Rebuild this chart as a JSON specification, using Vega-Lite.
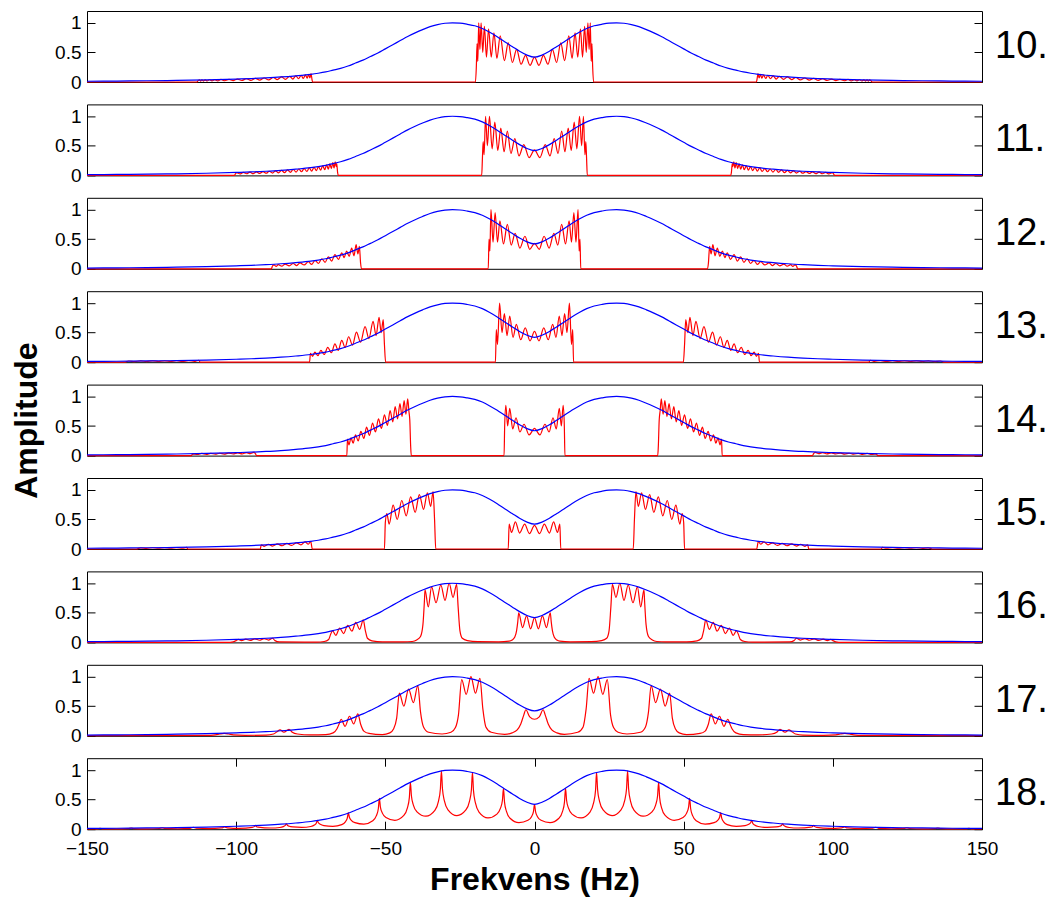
{
"$schema":"https://vega.github.io/schema/vega-lite/v6.json",
"background":"white",
"padding":{"left":10,"top":10,"right":2,"bottom":2},
"spacing":22.4,
"bounds":"flush",
"config":{
 "view":{"stroke":"#000","strokeWidth":1},
 "axis":{"labelFont":"Liberation Sans","labelFontSize":19,"labelColor":"#000","tickColor":"#000","tickWidth":1,"domain":false,"grid":false,"titleColor":"#000","titleFont":"Liberation Sans","labelFlush":false}
},
"datasets":{
"env":[
{"x":-150,"y":0.013},{"x":-140,"y":0.016},{"x":-130,"y":0.021},{"x":-120,"y":0.027},{"x":-110,"y":0.036},{"x":-100,"y":0.05},{"x":-95,"y":0.058},{"x":-90,"y":0.07},{"x":-85,"y":0.085},{"x":-80,"y":0.105},{"x":-75,"y":0.13},{"x":-72.5,"y":0.148},{"x":-70,"y":0.17},{"x":-67.5,"y":0.2},{"x":-65,"y":0.23},{"x":-62.5,"y":0.27},{"x":-60,"y":0.32},{"x":-57.5,"y":0.37},{"x":-55,"y":0.43},{"x":-52.5,"y":0.49},{"x":-50,"y":0.56},{"x":-47.5,"y":0.63},{"x":-45,"y":0.7},{"x":-42.5,"y":0.77},{"x":-40,"y":0.83},{"x":-37.5,"y":0.885},{"x":-35,"y":0.935},{"x":-32.5,"y":0.97},{"x":-30,"y":0.993},{"x":-27.5,"y":1.0},{"x":-25,"y":0.994},{"x":-22.5,"y":0.975},{"x":-20,"y":0.95},{"x":-17.5,"y":0.905},{"x":-15,"y":0.84},{"x":-12.5,"y":0.765},{"x":-10,"y":0.68},{"x":-7.5,"y":0.6},{"x":-5,"y":0.52},{"x":-2.5,"y":0.455},{"x":0,"y":0.42},
{"x":2.5,"y":0.455},{"x":5,"y":0.52},{"x":7.5,"y":0.6},{"x":10,"y":0.68},{"x":12.5,"y":0.765},{"x":15,"y":0.84},{"x":17.5,"y":0.905},{"x":20,"y":0.95},{"x":22.5,"y":0.975},{"x":25,"y":0.994},{"x":27.5,"y":1.0},{"x":30,"y":0.993},{"x":32.5,"y":0.97},{"x":35,"y":0.935},{"x":37.5,"y":0.885},{"x":40,"y":0.83},{"x":42.5,"y":0.77},{"x":45,"y":0.7},{"x":47.5,"y":0.63},{"x":50,"y":0.56},{"x":52.5,"y":0.49},{"x":55,"y":0.43},{"x":57.5,"y":0.37},{"x":60,"y":0.32},{"x":62.5,"y":0.27},{"x":65,"y":0.23},{"x":67.5,"y":0.2},{"x":70,"y":0.17},{"x":72.5,"y":0.148},{"x":75,"y":0.13},{"x":80,"y":0.105},{"x":85,"y":0.085},{"x":90,"y":0.07},{"x":95,"y":0.058},{"x":100,"y":0.05},{"x":110,"y":0.036},{"x":120,"y":0.027},{"x":130,"y":0.021},{"x":140,"y":0.016},{"x":150,"y":0.013}
],
"red":[
{"p":10,"x":-150,"y":0},{"p":10,"x":-113.2,"y":0},{"p":10,"x":-112.8,"y":0.02},{"p":10,"x":-112.3,"y":0.035},{"p":10,"x":-111.9,"y":0.015},{"p":10,"x":-111.5,"y":0.035},{"p":10,"x":-110.9,"y":0.016},{"p":10,"x":-110.4,"y":0.036},{"p":10,"x":-109.7,"y":0.017},{"p":10,"x":-109,"y":0.038},{"p":10,"x":-108.1,"y":0.018},{"p":10,"x":-107.2,"y":0.04},{"p":10,"x":-106.2,"y":0.02},{"p":10,"x":-105.1,"y":0.043},{"p":10,"x":-103.8,"y":0.021},{"p":10,"x":-102.4,"y":0.046},{"p":10,"x":-101,"y":0.023},{"p":10,"x":-99.6,"y":0.05},{"p":10,"x":-98.1,"y":0.025},{"p":10,"x":-96.6,"y":0.055},{"p":10,"x":-95.1,"y":0.028},{"p":10,"x":-93.6,"y":0.06},{"p":10,"x":-92.1,"y":0.031},{"p":10,"x":-90.6,"y":0.068},{"p":10,"x":-89.1,"y":0.035},{"p":10,"x":-87.6,"y":0.076},{"p":10,"x":-86.2,"y":0.04},{"p":10,"x":-84.8,"y":0.085},{"p":10,"x":-83.5,"y":0.045},{"p":10,"x":-82.1,"y":0.095},{"p":10,"x":-81,"y":0.05},{"p":10,"x":-80,"y":0.105},{"p":10,"x":-79.1,"y":0.055},{"p":10,"x":-78.2,"y":0.113},{"p":10,"x":-77.5,"y":0.06},{"p":10,"x":-76.8,"y":0.12},{"p":10,"x":-76.2,"y":0.065},{"p":10,"x":-75.7,"y":0.13},{"p":10,"x":-75.3,"y":0.07},{"p":10,"x":-74.9,"y":0.14},{"p":10,"x":-74.6,"y":0.05},{"p":10,"x":-74.4,"y":0},
{"p":10,"x":-19.8,"y":0},{"p":10,"x":-19.5,"y":0.25},{"p":10,"x":-19.25,"y":0.65},{"p":10,"x":-19,"y":0.35},{"p":10,"x":-18.7,"y":1},{"p":10,"x":-18.3,"y":0.55},{"p":10,"x":-17.9,"y":1},{"p":10,"x":-17.35,"y":0.5},{"p":10,"x":-16.8,"y":0.94},{"p":10,"x":-16.1,"y":0.42},{"p":10,"x":-15.4,"y":0.9},{"p":10,"x":-14.5,"y":0.42},{"p":10,"x":-13.6,"y":0.83},{"p":10,"x":-12.6,"y":0.4},{"p":10,"x":-11.5,"y":0.78},{"p":10,"x":-10.1,"y":0.36},{"p":10,"x":-8.8,"y":0.66},{"p":10,"x":-7.4,"y":0.33},{"p":10,"x":-6,"y":0.55},{"p":10,"x":-4.5,"y":0.3},{"p":10,"x":-3,"y":0.45},{"p":10,"x":-1.5,"y":0.28},{"p":10,"x":0,"y":0.42},{"p":10,"x":1.5,"y":0.28},{"p":10,"x":3,"y":0.45},{"p":10,"x":4.5,"y":0.3},{"p":10,"x":6,"y":0.55},{"p":10,"x":7.4,"y":0.33},{"p":10,"x":8.8,"y":0.66},{"p":10,"x":10.1,"y":0.36},{"p":10,"x":11.5,"y":0.78},{"p":10,"x":12.6,"y":0.4},{"p":10,"x":13.6,"y":0.83},{"p":10,"x":14.5,"y":0.42},{"p":10,"x":15.4,"y":0.9},{"p":10,"x":16.1,"y":0.42},{"p":10,"x":16.8,"y":0.94},{"p":10,"x":17.35,"y":0.5},{"p":10,"x":17.9,"y":1},{"p":10,"x":18.3,"y":0.55},{"p":10,"x":18.7,"y":1},{"p":10,"x":19,"y":0.35},{"p":10,"x":19.25,"y":0.65},{"p":10,"x":19.5,"y":0.25},{"p":10,"x":19.8,"y":0},
{"p":10,"x":74.4,"y":0},{"p":10,"x":74.6,"y":0.05},{"p":10,"x":74.9,"y":0.14},{"p":10,"x":75.3,"y":0.07},{"p":10,"x":75.7,"y":0.13},{"p":10,"x":76.2,"y":0.065},{"p":10,"x":76.8,"y":0.12},{"p":10,"x":77.5,"y":0.06},{"p":10,"x":78.2,"y":0.113},{"p":10,"x":79.1,"y":0.055},{"p":10,"x":80,"y":0.105},{"p":10,"x":81,"y":0.05},{"p":10,"x":82.1,"y":0.095},{"p":10,"x":83.5,"y":0.045},{"p":10,"x":84.8,"y":0.085},{"p":10,"x":86.2,"y":0.04},{"p":10,"x":87.6,"y":0.076},{"p":10,"x":89.1,"y":0.035},{"p":10,"x":90.6,"y":0.068},{"p":10,"x":92.1,"y":0.031},{"p":10,"x":93.6,"y":0.06},{"p":10,"x":95.1,"y":0.028},{"p":10,"x":96.6,"y":0.055},{"p":10,"x":98.1,"y":0.025},{"p":10,"x":99.6,"y":0.05},{"p":10,"x":101,"y":0.023},{"p":10,"x":102.4,"y":0.046},{"p":10,"x":103.8,"y":0.021},{"p":10,"x":105.1,"y":0.043},{"p":10,"x":106.2,"y":0.02},{"p":10,"x":107.2,"y":0.04},{"p":10,"x":108.1,"y":0.018},{"p":10,"x":109,"y":0.038},{"p":10,"x":109.7,"y":0.017},{"p":10,"x":110.4,"y":0.036},{"p":10,"x":110.9,"y":0.016},{"p":10,"x":111.5,"y":0.035},{"p":10,"x":111.9,"y":0.015},{"p":10,"x":112.3,"y":0.035},{"p":10,"x":112.8,"y":0.02},{"p":10,"x":113.2,"y":0},{"p":10,"x":150,"y":0},

{"p":11,"x":-150,"y":0},{"p":11,"x":-100.6,"y":0},{"p":11,"x":-100.2,"y":0.03},{"p":11,"x":-99.8,"y":0.045},{"p":11,"x":-98.7,"y":0.025},{"p":11,"x":-97.6,"y":0.05},{"p":11,"x":-96.5,"y":0.028},{"p":11,"x":-95.4,"y":0.055},{"p":11,"x":-94.3,"y":0.03},{"p":11,"x":-93.2,"y":0.06},{"p":11,"x":-92.1,"y":0.033},{"p":11,"x":-91,"y":0.065},{"p":11,"x":-89.9,"y":0.036},{"p":11,"x":-88.9,"y":0.07},{"p":11,"x":-87.8,"y":0.04},{"p":11,"x":-86.8,"y":0.077},{"p":11,"x":-85.8,"y":0.043},{"p":11,"x":-84.8,"y":0.084},{"p":11,"x":-83.8,"y":0.047},{"p":11,"x":-82.8,"y":0.092},{"p":11,"x":-81.8,"y":0.052},{"p":11,"x":-80.9,"y":0.1},{"p":11,"x":-79.9,"y":0.057},{"p":11,"x":-79,"y":0.108},{"p":11,"x":-78.1,"y":0.062},{"p":11,"x":-77.2,"y":0.116},{"p":11,"x":-76.3,"y":0.067},{"p":11,"x":-75.5,"y":0.126},{"p":11,"x":-74.7,"y":0.073},{"p":11,"x":-73.9,"y":0.137},{"p":11,"x":-73.1,"y":0.08},{"p":11,"x":-72.4,"y":0.15},{"p":11,"x":-71.7,"y":0.088},{"p":11,"x":-71,"y":0.163},{"p":11,"x":-70.3,"y":0.096},{"p":11,"x":-69.7,"y":0.178},{"p":11,"x":-69.1,"y":0.105},{"p":11,"x":-68.6,"y":0.195},{"p":11,"x":-68.1,"y":0.115},{"p":11,"x":-67.6,"y":0.215},{"p":11,"x":-67.2,"y":0.125},{"p":11,"x":-66.8,"y":0.23},{"p":11,"x":-66.5,"y":0.15},{"p":11,"x":-66.3,"y":0.2},{"p":11,"x":-66,"y":0.05},{"p":11,"x":-65.8,"y":0},
{"p":11,"x":-17.7,"y":0},{"p":11,"x":-17.45,"y":0.3},{"p":11,"x":-17.2,"y":0.57},{"p":11,"x":-16.9,"y":0.35},{"p":11,"x":-16.4,"y":1},{"p":11,"x":-15.8,"y":0.5},{"p":11,"x":-15.1,"y":1},{"p":11,"x":-14.2,"y":0.45},{"p":11,"x":-13.3,"y":0.9},{"p":11,"x":-12.3,"y":0.42},{"p":11,"x":-11.3,"y":0.8},{"p":11,"x":-10.2,"y":0.4},{"p":11,"x":-9.1,"y":0.75},{"p":11,"x":-7.9,"y":0.37},{"p":11,"x":-6.6,"y":0.62},{"p":11,"x":-5.2,"y":0.33},{"p":11,"x":-3.6,"y":0.52},{"p":11,"x":-1.8,"y":0.3},{"p":11,"x":0,"y":0.43},{"p":11,"x":1.8,"y":0.3},{"p":11,"x":3.6,"y":0.52},{"p":11,"x":5.2,"y":0.33},{"p":11,"x":6.6,"y":0.62},{"p":11,"x":7.9,"y":0.37},{"p":11,"x":9.1,"y":0.75},{"p":11,"x":10.2,"y":0.4},{"p":11,"x":11.3,"y":0.8},{"p":11,"x":12.3,"y":0.42},{"p":11,"x":13.3,"y":0.9},{"p":11,"x":14.2,"y":0.45},{"p":11,"x":15.1,"y":1},{"p":11,"x":15.8,"y":0.5},{"p":11,"x":16.4,"y":1},{"p":11,"x":16.9,"y":0.35},{"p":11,"x":17.2,"y":0.57},{"p":11,"x":17.45,"y":0.3},{"p":11,"x":17.7,"y":0},
{"p":11,"x":65.8,"y":0},{"p":11,"x":66,"y":0.05},{"p":11,"x":66.3,"y":0.2},{"p":11,"x":66.5,"y":0.15},{"p":11,"x":66.8,"y":0.23},{"p":11,"x":67.2,"y":0.125},{"p":11,"x":67.6,"y":0.215},{"p":11,"x":68.1,"y":0.115},{"p":11,"x":68.6,"y":0.195},{"p":11,"x":69.1,"y":0.105},{"p":11,"x":69.7,"y":0.178},{"p":11,"x":70.3,"y":0.096},{"p":11,"x":71,"y":0.163},{"p":11,"x":71.7,"y":0.088},{"p":11,"x":72.4,"y":0.15},{"p":11,"x":73.1,"y":0.08},{"p":11,"x":73.9,"y":0.137},{"p":11,"x":74.7,"y":0.073},{"p":11,"x":75.5,"y":0.126},{"p":11,"x":76.3,"y":0.067},{"p":11,"x":77.2,"y":0.116},{"p":11,"x":78.1,"y":0.062},{"p":11,"x":79,"y":0.108},{"p":11,"x":79.9,"y":0.057},{"p":11,"x":80.9,"y":0.1},{"p":11,"x":81.8,"y":0.052},{"p":11,"x":82.8,"y":0.092},{"p":11,"x":83.8,"y":0.047},{"p":11,"x":84.8,"y":0.084},{"p":11,"x":85.8,"y":0.043},{"p":11,"x":86.8,"y":0.077},{"p":11,"x":87.8,"y":0.04},{"p":11,"x":88.9,"y":0.07},{"p":11,"x":89.9,"y":0.036},{"p":11,"x":91,"y":0.065},{"p":11,"x":92.1,"y":0.033},{"p":11,"x":93.2,"y":0.06},{"p":11,"x":94.3,"y":0.03},{"p":11,"x":95.4,"y":0.055},{"p":11,"x":96.5,"y":0.028},{"p":11,"x":97.6,"y":0.05},{"p":11,"x":98.7,"y":0.025},{"p":11,"x":99.8,"y":0.045},{"p":11,"x":100.2,"y":0.03},{"p":11,"x":100.6,"y":0},{"p":11,"x":150,"y":0},

{"p":12,"x":-150,"y":0},{"p":12,"x":-88.2,"y":0},{"p":12,"x":-87.8,"y":0.05},{"p":12,"x":-87.3,"y":0.065},{"p":12,"x":-86.6,"y":0.04},{"p":12,"x":-85.9,"y":0.07},{"p":12,"x":-84.7,"y":0.045},{"p":12,"x":-83.6,"y":0.08},{"p":12,"x":-82.2,"y":0.05},{"p":12,"x":-80.9,"y":0.09},{"p":12,"x":-79.7,"y":0.055},{"p":12,"x":-78.6,"y":0.1},{"p":12,"x":-77.2,"y":0.065},{"p":12,"x":-75.8,"y":0.12},{"p":12,"x":-74.7,"y":0.075},{"p":12,"x":-73.6,"y":0.14},{"p":12,"x":-72.4,"y":0.09},{"p":12,"x":-71.3,"y":0.17},{"p":12,"x":-70.2,"y":0.11},{"p":12,"x":-69.1,"y":0.2},{"p":12,"x":-68,"y":0.13},{"p":12,"x":-66.9,"y":0.24},{"p":12,"x":-65.7,"y":0.16},{"p":12,"x":-64.6,"y":0.27},{"p":12,"x":-63.8,"y":0.19},{"p":12,"x":-63,"y":0.3},{"p":12,"x":-62.1,"y":0.21},{"p":12,"x":-61.3,"y":0.35},{"p":12,"x":-60.5,"y":0.22},{"p":12,"x":-59.8,"y":0.41},{"p":12,"x":-59.2,"y":0.25},{"p":12,"x":-58.7,"y":0.38},{"p":12,"x":-58.3,"y":0.1},{"p":12,"x":-58,"y":0},
{"p":12,"x":-15.5,"y":0},{"p":12,"x":-15.25,"y":0.5},{"p":12,"x":-14.95,"y":0.3},{"p":12,"x":-14.6,"y":1},{"p":12,"x":-13.9,"y":0.45},{"p":12,"x":-13.2,"y":0.95},{"p":12,"x":-12.4,"y":0.45},{"p":12,"x":-11.6,"y":0.81},{"p":12,"x":-10.4,"y":0.42},{"p":12,"x":-9.1,"y":0.75},{"p":12,"x":-7.8,"y":0.4},{"p":12,"x":-6.5,"y":0.6},{"p":12,"x":-4.9,"y":0.35},{"p":12,"x":-3.2,"y":0.55},{"p":12,"x":-1.6,"y":0.33},{"p":12,"x":0,"y":0.43},{"p":12,"x":1.6,"y":0.33},{"p":12,"x":3.2,"y":0.55},{"p":12,"x":4.9,"y":0.35},{"p":12,"x":6.5,"y":0.6},{"p":12,"x":7.8,"y":0.4},{"p":12,"x":9.1,"y":0.75},{"p":12,"x":10.4,"y":0.42},{"p":12,"x":11.6,"y":0.81},{"p":12,"x":12.4,"y":0.45},{"p":12,"x":13.2,"y":0.95},{"p":12,"x":13.9,"y":0.45},{"p":12,"x":14.6,"y":1},{"p":12,"x":14.95,"y":0.3},{"p":12,"x":15.25,"y":0.5},{"p":12,"x":15.5,"y":0},
{"p":12,"x":58,"y":0},{"p":12,"x":58.3,"y":0.1},{"p":12,"x":58.7,"y":0.38},{"p":12,"x":59.2,"y":0.25},{"p":12,"x":59.8,"y":0.41},{"p":12,"x":60.5,"y":0.22},{"p":12,"x":61.3,"y":0.35},{"p":12,"x":62.1,"y":0.21},{"p":12,"x":63,"y":0.3},{"p":12,"x":63.8,"y":0.19},{"p":12,"x":64.6,"y":0.27},{"p":12,"x":65.7,"y":0.16},{"p":12,"x":66.9,"y":0.24},{"p":12,"x":68,"y":0.13},{"p":12,"x":69.1,"y":0.2},{"p":12,"x":70.2,"y":0.11},{"p":12,"x":71.3,"y":0.17},{"p":12,"x":72.4,"y":0.09},{"p":12,"x":73.6,"y":0.14},{"p":12,"x":74.7,"y":0.075},{"p":12,"x":75.8,"y":0.12},{"p":12,"x":77.2,"y":0.065},{"p":12,"x":78.6,"y":0.1},{"p":12,"x":79.7,"y":0.055},{"p":12,"x":80.9,"y":0.09},{"p":12,"x":82.2,"y":0.05},{"p":12,"x":83.6,"y":0.08},{"p":12,"x":84.7,"y":0.045},{"p":12,"x":85.9,"y":0.07},{"p":12,"x":86.6,"y":0.04},{"p":12,"x":87.3,"y":0.065},{"p":12,"x":87.8,"y":0.05},{"p":12,"x":88.2,"y":0},{"p":12,"x":150,"y":0},

{"p":13,"x":-150,"y":0},{"p":13,"x":-137.5,"y":0},{"p":13,"x":-136,"y":0.02},{"p":13,"x":-134,"y":0.01},{"p":13,"x":-132,"y":0.022},{"p":13,"x":-130,"y":0.011},{"p":13,"x":-128,"y":0.023},{"p":13,"x":-126,"y":0.012},{"p":13,"x":-124,"y":0.024},{"p":13,"x":-122,"y":0.012},{"p":13,"x":-120,"y":0.025},{"p":13,"x":-118,"y":0.013},{"p":13,"x":-116,"y":0.026},{"p":13,"x":-114,"y":0.014},{"p":13,"x":-112.6,"y":0.03},{"p":13,"x":-112,"y":0},
{"p":13,"x":-75.4,"y":0},{"p":13,"x":-75.1,"y":0.15},{"p":13,"x":-74.4,"y":0.1},{"p":13,"x":-73.6,"y":0.17},{"p":13,"x":-72.6,"y":0.11},{"p":13,"x":-71.6,"y":0.2},{"p":13,"x":-70.5,"y":0.13},{"p":13,"x":-69.3,"y":0.25},{"p":13,"x":-68.1,"y":0.16},{"p":13,"x":-66.9,"y":0.31},{"p":13,"x":-65.8,"y":0.2},{"p":13,"x":-64.6,"y":0.37},{"p":13,"x":-63.5,"y":0.25},{"p":13,"x":-62.3,"y":0.43},{"p":13,"x":-61,"y":0.29},{"p":13,"x":-59.7,"y":0.51},{"p":13,"x":-58.3,"y":0.34},{"p":13,"x":-56.8,"y":0.6},{"p":13,"x":-55.5,"y":0.4},{"p":13,"x":-54.1,"y":0.69},{"p":13,"x":-53.1,"y":0.45},{"p":13,"x":-52.1,"y":0.76},{"p":13,"x":-51.4,"y":0.5},{"p":13,"x":-50.7,"y":0.72},{"p":13,"x":-50.3,"y":0.3},{"p":13,"x":-49.9,"y":0},
{"p":13,"x":-13.1,"y":0},{"p":13,"x":-12.8,"y":0.55},{"p":13,"x":-12.4,"y":0.3},{"p":13,"x":-11.7,"y":1},{"p":13,"x":-10.9,"y":0.5},{"p":13,"x":-10.1,"y":0.82},{"p":13,"x":-9.2,"y":0.45},{"p":13,"x":-8.3,"y":0.78},{"p":13,"x":-7.2,"y":0.42},{"p":13,"x":-6.1,"y":0.64},{"p":13,"x":-4.6,"y":0.38},{"p":13,"x":-3.1,"y":0.58},{"p":13,"x":-1.5,"y":0.36},{"p":13,"x":0,"y":0.52},{"p":13,"x":1.5,"y":0.36},{"p":13,"x":3.1,"y":0.58},{"p":13,"x":4.6,"y":0.38},{"p":13,"x":6.1,"y":0.64},{"p":13,"x":7.2,"y":0.42},{"p":13,"x":8.3,"y":0.78},{"p":13,"x":9.2,"y":0.45},{"p":13,"x":10.1,"y":0.82},{"p":13,"x":10.9,"y":0.5},{"p":13,"x":11.7,"y":1},{"p":13,"x":12.4,"y":0.3},{"p":13,"x":12.8,"y":0.55},{"p":13,"x":13.1,"y":0},
{"p":13,"x":49.9,"y":0},{"p":13,"x":50.3,"y":0.3},{"p":13,"x":50.7,"y":0.72},{"p":13,"x":51.4,"y":0.5},{"p":13,"x":52.1,"y":0.76},{"p":13,"x":53.1,"y":0.45},{"p":13,"x":54.1,"y":0.69},{"p":13,"x":55.5,"y":0.4},{"p":13,"x":56.8,"y":0.6},{"p":13,"x":58.3,"y":0.34},{"p":13,"x":59.7,"y":0.51},{"p":13,"x":61,"y":0.29},{"p":13,"x":62.3,"y":0.43},{"p":13,"x":63.5,"y":0.25},{"p":13,"x":64.6,"y":0.37},{"p":13,"x":65.8,"y":0.2},{"p":13,"x":66.9,"y":0.31},{"p":13,"x":68.1,"y":0.16},{"p":13,"x":69.3,"y":0.25},{"p":13,"x":70.5,"y":0.13},{"p":13,"x":71.6,"y":0.2},{"p":13,"x":72.6,"y":0.11},{"p":13,"x":73.6,"y":0.17},{"p":13,"x":74.4,"y":0.1},{"p":13,"x":75.1,"y":0.15},{"p":13,"x":75.4,"y":0},
{"p":13,"x":112,"y":0},{"p":13,"x":112.6,"y":0.03},{"p":13,"x":114,"y":0.014},{"p":13,"x":116,"y":0.026},{"p":13,"x":118,"y":0.013},{"p":13,"x":120,"y":0.025},{"p":13,"x":122,"y":0.012},{"p":13,"x":124,"y":0.024},{"p":13,"x":126,"y":0.012},{"p":13,"x":128,"y":0.023},{"p":13,"x":130,"y":0.011},{"p":13,"x":132,"y":0.022},{"p":13,"x":134,"y":0.01},{"p":13,"x":136,"y":0.02},{"p":13,"x":137.5,"y":0},{"p":13,"x":150,"y":0},

{"p":14,"x":-150,"y":0},{"p":14,"x":-115,"y":0},{"p":14,"x":-114.6,"y":0.03},{"p":14,"x":-113,"y":0.02},{"p":14,"x":-111.5,"y":0.036},{"p":14,"x":-110,"y":0.022},{"p":14,"x":-108.5,"y":0.038},{"p":14,"x":-107,"y":0.024},{"p":14,"x":-105.5,"y":0.04},{"p":14,"x":-104,"y":0.026},{"p":14,"x":-102.5,"y":0.043},{"p":14,"x":-101,"y":0.028},{"p":14,"x":-99.5,"y":0.047},{"p":14,"x":-98,"y":0.03},{"p":14,"x":-96.6,"y":0.05},{"p":14,"x":-95.3,"y":0.034},{"p":14,"x":-94.1,"y":0.056},{"p":14,"x":-93.5,"y":0.03},{"p":14,"x":-93.2,"y":0},
{"p":14,"x":-62.9,"y":0},{"p":14,"x":-62.7,"y":0.28},{"p":14,"x":-62.2,"y":0.18},{"p":14,"x":-61.5,"y":0.3},{"p":14,"x":-60.8,"y":0.21},{"p":14,"x":-60,"y":0.35},{"p":14,"x":-59.1,"y":0.25},{"p":14,"x":-58.2,"y":0.41},{"p":14,"x":-57.2,"y":0.29},{"p":14,"x":-56.3,"y":0.48},{"p":14,"x":-55.3,"y":0.34},{"p":14,"x":-54.3,"y":0.55},{"p":14,"x":-53.3,"y":0.4},{"p":14,"x":-52.3,"y":0.62},{"p":14,"x":-51.3,"y":0.46},{"p":14,"x":-50.3,"y":0.69},{"p":14,"x":-49.3,"y":0.51},{"p":14,"x":-48.4,"y":0.76},{"p":14,"x":-47.5,"y":0.57},{"p":14,"x":-46.7,"y":0.83},{"p":14,"x":-45.9,"y":0.62},{"p":14,"x":-45.1,"y":0.88},{"p":14,"x":-44.4,"y":0.66},{"p":14,"x":-43.7,"y":0.93},{"p":14,"x":-43.1,"y":0.7},{"p":14,"x":-42.5,"y":0.96},{"p":14,"x":-42.1,"y":0.75},{"p":14,"x":-41.8,"y":0.6},{"p":14,"x":-41.5,"y":0.15},{"p":14,"x":-41.3,"y":0},
{"p":14,"x":-10.2,"y":0},{"p":14,"x":-10,"y":0.5},{"p":14,"x":-9.6,"y":0.85},{"p":14,"x":-9,"y":0.5},{"p":14,"x":-8.3,"y":0.8},{"p":14,"x":-7.3,"y":0.45},{"p":14,"x":-6.2,"y":0.64},{"p":14,"x":-4.9,"y":0.4},{"p":14,"x":-3.5,"y":0.53},{"p":14,"x":-1.8,"y":0.35},{"p":14,"x":0,"y":0.46},{"p":14,"x":1.8,"y":0.35},{"p":14,"x":3.5,"y":0.53},{"p":14,"x":4.9,"y":0.4},{"p":14,"x":6.2,"y":0.64},{"p":14,"x":7.3,"y":0.45},{"p":14,"x":8.3,"y":0.8},{"p":14,"x":9,"y":0.5},{"p":14,"x":9.6,"y":0.85},{"p":14,"x":10,"y":0.5},{"p":14,"x":10.2,"y":0},
{"p":14,"x":41.3,"y":0},{"p":14,"x":41.5,"y":0.15},{"p":14,"x":41.8,"y":0.6},{"p":14,"x":42.1,"y":0.75},{"p":14,"x":42.5,"y":0.96},{"p":14,"x":43.1,"y":0.7},{"p":14,"x":43.7,"y":0.93},{"p":14,"x":44.4,"y":0.66},{"p":14,"x":45.1,"y":0.88},{"p":14,"x":45.9,"y":0.62},{"p":14,"x":46.7,"y":0.83},{"p":14,"x":47.5,"y":0.57},{"p":14,"x":48.4,"y":0.76},{"p":14,"x":49.3,"y":0.51},{"p":14,"x":50.3,"y":0.69},{"p":14,"x":51.3,"y":0.46},{"p":14,"x":52.3,"y":0.62},{"p":14,"x":53.3,"y":0.4},{"p":14,"x":54.3,"y":0.55},{"p":14,"x":55.3,"y":0.34},{"p":14,"x":56.3,"y":0.48},{"p":14,"x":57.2,"y":0.29},{"p":14,"x":58.2,"y":0.41},{"p":14,"x":59.1,"y":0.25},{"p":14,"x":60,"y":0.35},{"p":14,"x":60.8,"y":0.21},{"p":14,"x":61.5,"y":0.3},{"p":14,"x":62.2,"y":0.18},{"p":14,"x":62.7,"y":0.28},{"p":14,"x":62.9,"y":0},
{"p":14,"x":93.2,"y":0},{"p":14,"x":93.5,"y":0.03},{"p":14,"x":94.1,"y":0.056},{"p":14,"x":95.3,"y":0.034},{"p":14,"x":96.6,"y":0.05},{"p":14,"x":98,"y":0.03},{"p":14,"x":99.5,"y":0.047},{"p":14,"x":101,"y":0.028},{"p":14,"x":102.5,"y":0.043},{"p":14,"x":104,"y":0.026},{"p":14,"x":105.5,"y":0.04},{"p":14,"x":107,"y":0.024},{"p":14,"x":108.5,"y":0.038},{"p":14,"x":110,"y":0.022},{"p":14,"x":111.5,"y":0.036},{"p":14,"x":113,"y":0.02},{"p":14,"x":114.6,"y":0.03},{"p":14,"x":115,"y":0},{"p":14,"x":150,"y":0},

{"p":15,"x":-150,"y":0},{"p":15,"x":-133.4,"y":0},{"p":15,"x":-132,"y":0.02},{"p":15,"x":-130,"y":0.012},{"p":15,"x":-128,"y":0.021},{"p":15,"x":-126,"y":0.013},{"p":15,"x":-124,"y":0.022},{"p":15,"x":-122,"y":0.013},{"p":15,"x":-120,"y":0.024},{"p":15,"x":-118,"y":0.014},{"p":15,"x":-116.6,"y":0.026},{"p":15,"x":-116.2,"y":0},
{"p":15,"x":-91.9,"y":0},{"p":15,"x":-91.6,"y":0.07},{"p":15,"x":-90.6,"y":0.045},{"p":15,"x":-89.2,"y":0.08},{"p":15,"x":-87.8,"y":0.05},{"p":15,"x":-86.2,"y":0.085},{"p":15,"x":-84.6,"y":0.055},{"p":15,"x":-83,"y":0.095},{"p":15,"x":-81.4,"y":0.06},{"p":15,"x":-79.8,"y":0.105},{"p":15,"x":-78.3,"y":0.07},{"p":15,"x":-76.9,"y":0.12},{"p":15,"x":-75.8,"y":0.08},{"p":15,"x":-75,"y":0.13},{"p":15,"x":-74.7,"y":0.05},{"p":15,"x":-74.5,"y":0},
{"p":15,"x":-50.3,"y":0},{"p":15,"x":-50,"y":0.45},{"p":15,"x":-49.5,"y":0.6},{"p":15,"x":-48.7,"y":0.42},{"p":15,"x":-47.4,"y":0.74},{"p":15,"x":-46,"y":0.5},{"p":15,"x":-44.5,"y":0.82},{"p":15,"x":-43,"y":0.56},{"p":15,"x":-41.5,"y":0.88},{"p":15,"x":-40,"y":0.62},{"p":15,"x":-38.6,"y":0.92},{"p":15,"x":-37.2,"y":0.67},{"p":15,"x":-35.9,"y":0.95},{"p":15,"x":-34.8,"y":0.72},{"p":15,"x":-34,"y":0.97},{"p":15,"x":-33.5,"y":0.5},{"p":15,"x":-33.1,"y":0},
{"p":15,"x":-8.8,"y":0},{"p":15,"x":-8.5,"y":0.42},{"p":15,"x":-7.7,"y":0.28},{"p":15,"x":-6.4,"y":0.46},{"p":15,"x":-5,"y":0.27},{"p":15,"x":-3.3,"y":0.42},{"p":15,"x":-1.7,"y":0.26},{"p":15,"x":0,"y":0.4},{"p":15,"x":1.7,"y":0.26},{"p":15,"x":3.3,"y":0.42},{"p":15,"x":5,"y":0.27},{"p":15,"x":6.4,"y":0.46},{"p":15,"x":7.7,"y":0.28},{"p":15,"x":8.5,"y":0.42},{"p":15,"x":8.8,"y":0},
{"p":15,"x":33.1,"y":0},{"p":15,"x":33.5,"y":0.5},{"p":15,"x":34,"y":0.97},{"p":15,"x":34.8,"y":0.72},{"p":15,"x":35.9,"y":0.95},{"p":15,"x":37.2,"y":0.67},{"p":15,"x":38.6,"y":0.92},{"p":15,"x":40,"y":0.62},{"p":15,"x":41.5,"y":0.88},{"p":15,"x":43,"y":0.56},{"p":15,"x":44.5,"y":0.82},{"p":15,"x":46,"y":0.5},{"p":15,"x":47.4,"y":0.74},{"p":15,"x":48.7,"y":0.42},{"p":15,"x":49.5,"y":0.6},{"p":15,"x":50,"y":0.45},{"p":15,"x":50.3,"y":0},
{"p":15,"x":74.5,"y":0},{"p":15,"x":74.7,"y":0.05},{"p":15,"x":75,"y":0.13},{"p":15,"x":75.8,"y":0.08},{"p":15,"x":76.9,"y":0.12},{"p":15,"x":78.3,"y":0.07},{"p":15,"x":79.8,"y":0.105},{"p":15,"x":81.4,"y":0.06},{"p":15,"x":83,"y":0.095},{"p":15,"x":84.6,"y":0.055},{"p":15,"x":86.2,"y":0.085},{"p":15,"x":87.8,"y":0.05},{"p":15,"x":89.2,"y":0.08},{"p":15,"x":90.6,"y":0.045},{"p":15,"x":91.6,"y":0.07},{"p":15,"x":91.9,"y":0},
{"p":15,"x":116.2,"y":0},{"p":15,"x":116.6,"y":0.026},{"p":15,"x":118,"y":0.014},{"p":15,"x":120,"y":0.024},{"p":15,"x":122,"y":0.013},{"p":15,"x":124,"y":0.022},{"p":15,"x":126,"y":0.013},{"p":15,"x":128,"y":0.021},{"p":15,"x":130,"y":0.012},{"p":15,"x":132,"y":0.02},{"p":15,"x":133.4,"y":0},{"p":15,"x":150,"y":0},

{"p":16,"x":-150,"y":0},{"p":16,"x":-103,"y":0},{"p":16,"x":-101,"y":0.01},{"p":16,"x":-100,"y":0.03},{"p":16,"x":-99.3,"y":0.05},{"p":16,"x":-98.2,"y":0.03},{"p":16,"x":-96.8,"y":0.055},{"p":16,"x":-95.3,"y":0.033},{"p":16,"x":-93.7,"y":0.06},{"p":16,"x":-92.2,"y":0.036},{"p":16,"x":-90.6,"y":0.065},{"p":16,"x":-89.2,"y":0.04},{"p":16,"x":-87.8,"y":0.07},{"p":16,"x":-87,"y":0.03},{"p":16,"x":-85.5,"y":0.008},{"p":16,"x":-73,"y":0.004},
{"p":16,"x":-70.5,"y":0.015},{"p":16,"x":-69,"y":0.05},{"p":16,"x":-68.3,"y":0.14},{"p":16,"x":-67.7,"y":0.2},{"p":16,"x":-66.6,"y":0.12},{"p":16,"x":-65.3,"y":0.24},{"p":16,"x":-64,"y":0.15},{"p":16,"x":-62.6,"y":0.29},{"p":16,"x":-61.2,"y":0.19},{"p":16,"x":-59.9,"y":0.34},{"p":16,"x":-58.6,"y":0.22},{"p":16,"x":-57.4,"y":0.38},{"p":16,"x":-56.7,"y":0.2},{"p":16,"x":-56,"y":0.07},{"p":16,"x":-54.5,"y":0.025},{"p":16,"x":-51,"y":0.008},{"p":16,"x":-44,"y":0.008},
{"p":16,"x":-41,"y":0.015},{"p":16,"x":-39.5,"y":0.04},{"p":16,"x":-38.2,"y":0.1},{"p":16,"x":-37.4,"y":0.3},{"p":16,"x":-36.9,"y":0.7},{"p":16,"x":-36.7,"y":0.89},{"p":16,"x":-35.6,"y":0.6},{"p":16,"x":-34.5,"y":0.94},{"p":16,"x":-33,"y":0.67},{"p":16,"x":-31.4,"y":0.97},{"p":16,"x":-30,"y":0.71},{"p":16,"x":-28.6,"y":1},{"p":16,"x":-27.3,"y":0.76},{"p":16,"x":-26.1,"y":0.98},{"p":16,"x":-25.6,"y":0.6},{"p":16,"x":-25,"y":0.2},{"p":16,"x":-24.2,"y":0.07},{"p":16,"x":-22.5,"y":0.03},{"p":16,"x":-19,"y":0.012},{"p":16,"x":-12,"y":0.01},
{"p":16,"x":-8.5,"y":0.02},{"p":16,"x":-7.5,"y":0.04},{"p":16,"x":-6.6,"y":0.09},{"p":16,"x":-6,"y":0.2},{"p":16,"x":-5.6,"y":0.35},{"p":16,"x":-5.3,"y":0.5},{"p":16,"x":-4,"y":0.25},{"p":16,"x":-2.65,"y":0.45},{"p":16,"x":-1.3,"y":0.23},{"p":16,"x":0,"y":0.42},{"p":16,"x":1.3,"y":0.23},{"p":16,"x":2.65,"y":0.45},{"p":16,"x":4,"y":0.25},{"p":16,"x":5.3,"y":0.5},{"p":16,"x":5.6,"y":0.35},{"p":16,"x":6,"y":0.2},{"p":16,"x":6.6,"y":0.09},{"p":16,"x":7.5,"y":0.04},{"p":16,"x":8.5,"y":0.02},
{"p":16,"x":12,"y":0.01},{"p":16,"x":19,"y":0.012},{"p":16,"x":22.5,"y":0.03},{"p":16,"x":24.2,"y":0.07},{"p":16,"x":25,"y":0.2},{"p":16,"x":25.6,"y":0.6},{"p":16,"x":26.1,"y":0.98},{"p":16,"x":27.3,"y":0.76},{"p":16,"x":28.6,"y":1},{"p":16,"x":30,"y":0.71},{"p":16,"x":31.4,"y":0.97},{"p":16,"x":33,"y":0.67},{"p":16,"x":34.5,"y":0.94},{"p":16,"x":35.6,"y":0.6},{"p":16,"x":36.7,"y":0.89},{"p":16,"x":36.9,"y":0.7},{"p":16,"x":37.4,"y":0.3},{"p":16,"x":38.2,"y":0.1},{"p":16,"x":39.5,"y":0.04},{"p":16,"x":41,"y":0.015},
{"p":16,"x":44,"y":0.008},{"p":16,"x":51,"y":0.008},{"p":16,"x":54.5,"y":0.025},{"p":16,"x":56,"y":0.07},{"p":16,"x":56.7,"y":0.2},{"p":16,"x":57.4,"y":0.38},{"p":16,"x":58.6,"y":0.22},{"p":16,"x":59.9,"y":0.34},{"p":16,"x":61.2,"y":0.19},{"p":16,"x":62.6,"y":0.29},{"p":16,"x":64,"y":0.15},{"p":16,"x":65.3,"y":0.24},{"p":16,"x":66.6,"y":0.12},{"p":16,"x":67.7,"y":0.2},{"p":16,"x":68.3,"y":0.14},{"p":16,"x":69,"y":0.05},{"p":16,"x":70.5,"y":0.015},
{"p":16,"x":73,"y":0.004},{"p":16,"x":85.5,"y":0.008},{"p":16,"x":87,"y":0.03},{"p":16,"x":87.8,"y":0.07},{"p":16,"x":89.2,"y":0.04},{"p":16,"x":90.6,"y":0.065},{"p":16,"x":92.2,"y":0.036},{"p":16,"x":93.7,"y":0.06},{"p":16,"x":95.3,"y":0.033},{"p":16,"x":96.8,"y":0.055},{"p":16,"x":98.2,"y":0.03},{"p":16,"x":99.3,"y":0.05},{"p":16,"x":100,"y":0.03},{"p":16,"x":101,"y":0.01},{"p":16,"x":103,"y":0},{"p":16,"x":150,"y":0},

{"p":17,"x":-150,"y":0.003},{"p":17,"x":-110,"y":0.006},{"p":17,"x":-107,"y":0.015},{"p":17,"x":-105.5,"y":0.03},{"p":17,"x":-104,"y":0.04},{"p":17,"x":-102.5,"y":0.03},{"p":17,"x":-101,"y":0.015},{"p":17,"x":-97,"y":0.008},
{"p":17,"x":-90,"y":0.012},{"p":17,"x":-87.5,"y":0.03},{"p":17,"x":-86.3,"y":0.07},{"p":17,"x":-85.3,"y":0.1},{"p":17,"x":-84,"y":0.06},{"p":17,"x":-82.3,"y":0.11},{"p":17,"x":-81.2,"y":0.06},{"p":17,"x":-79.5,"y":0.03},{"p":17,"x":-75,"y":0.015},
{"p":17,"x":-70,"y":0.02},{"p":17,"x":-67.5,"y":0.05},{"p":17,"x":-66.2,"y":0.12},{"p":17,"x":-65.5,"y":0.2},{"p":17,"x":-64.8,"y":0.28},{"p":17,"x":-63.5,"y":0.16},{"p":17,"x":-62,"y":0.33},{"p":17,"x":-60.6,"y":0.2},{"p":17,"x":-59.2,"y":0.37},{"p":17,"x":-58.3,"y":0.2},{"p":17,"x":-57.2,"y":0.08},{"p":17,"x":-55.5,"y":0.04},{"p":17,"x":-51,"y":0.02},
{"p":17,"x":-48.5,"y":0.05},{"p":17,"x":-47.2,"y":0.12},{"p":17,"x":-46.2,"y":0.3},{"p":17,"x":-45.3,"y":0.72},{"p":17,"x":-43.8,"y":0.5},{"p":17,"x":-42.2,"y":0.79},{"p":17,"x":-40.6,"y":0.56},{"p":17,"x":-39.1,"y":0.85},{"p":17,"x":-38.2,"y":0.4},{"p":17,"x":-37.2,"y":0.15},{"p":17,"x":-35.5,"y":0.06},{"p":17,"x":-31,"y":0.03},
{"p":17,"x":-28,"y":0.06},{"p":17,"x":-26.5,"y":0.14},{"p":17,"x":-25.5,"y":0.35},{"p":17,"x":-24.4,"y":0.95},{"p":17,"x":-22.9,"y":0.7},{"p":17,"x":-21.3,"y":1},{"p":17,"x":-19.8,"y":0.72},{"p":17,"x":-18.3,"y":0.97},{"p":17,"x":-17.3,"y":0.45},{"p":17,"x":-16.3,"y":0.15},{"p":17,"x":-14.5,"y":0.06},{"p":17,"x":-10,"y":0.025},
{"p":17,"x":-7.5,"y":0.05},{"p":17,"x":-5.8,"y":0.1},{"p":17,"x":-4.6,"y":0.2},{"p":17,"x":-3.6,"y":0.35},{"p":17,"x":-2.9,"y":0.44},{"p":17,"x":-1.6,"y":0.32},{"p":17,"x":0,"y":0.28},{"p":17,"x":1.6,"y":0.32},{"p":17,"x":2.9,"y":0.44},{"p":17,"x":3.6,"y":0.35},{"p":17,"x":4.6,"y":0.2},{"p":17,"x":5.8,"y":0.1},{"p":17,"x":7.5,"y":0.05},
{"p":17,"x":10,"y":0.025},{"p":17,"x":14.5,"y":0.06},{"p":17,"x":16.3,"y":0.15},{"p":17,"x":17.3,"y":0.45},{"p":17,"x":18.3,"y":0.97},{"p":17,"x":19.8,"y":0.72},{"p":17,"x":21.3,"y":1},{"p":17,"x":22.9,"y":0.7},{"p":17,"x":24.4,"y":0.95},{"p":17,"x":25.5,"y":0.35},{"p":17,"x":26.5,"y":0.14},{"p":17,"x":28,"y":0.06},
{"p":17,"x":31,"y":0.03},{"p":17,"x":35.5,"y":0.06},{"p":17,"x":37.2,"y":0.15},{"p":17,"x":38.2,"y":0.4},{"p":17,"x":39.1,"y":0.85},{"p":17,"x":40.6,"y":0.56},{"p":17,"x":42.2,"y":0.79},{"p":17,"x":43.8,"y":0.5},{"p":17,"x":45.3,"y":0.72},{"p":17,"x":46.2,"y":0.3},{"p":17,"x":47.2,"y":0.12},{"p":17,"x":48.5,"y":0.05},
{"p":17,"x":51,"y":0.02},{"p":17,"x":55.5,"y":0.04},{"p":17,"x":57.2,"y":0.08},{"p":17,"x":58.3,"y":0.2},{"p":17,"x":59.2,"y":0.37},{"p":17,"x":60.6,"y":0.2},{"p":17,"x":62,"y":0.33},{"p":17,"x":63.5,"y":0.16},{"p":17,"x":64.8,"y":0.28},{"p":17,"x":65.5,"y":0.2},{"p":17,"x":66.2,"y":0.12},{"p":17,"x":67.5,"y":0.05},{"p":17,"x":70,"y":0.02},
{"p":17,"x":75,"y":0.015},{"p":17,"x":79.5,"y":0.03},{"p":17,"x":81.2,"y":0.06},{"p":17,"x":82.3,"y":0.11},{"p":17,"x":84,"y":0.06},{"p":17,"x":85.3,"y":0.1},{"p":17,"x":86.3,"y":0.07},{"p":17,"x":87.5,"y":0.03},{"p":17,"x":90,"y":0.012},
{"p":17,"x":97,"y":0.008},{"p":17,"x":101,"y":0.015},{"p":17,"x":102.5,"y":0.03},{"p":17,"x":104,"y":0.04},{"p":17,"x":105.5,"y":0.03},{"p":17,"x":107,"y":0.015},{"p":17,"x":110,"y":0.006},{"p":17,"x":150,"y":0.003},

{"p":18,"x":-150,"y":0.005},{"p":18,"x":-146.6,"y":0.007},{"p":18,"x":-145.6,"y":0.014},{"p":18,"x":-144.6,"y":0.007},{"p":18,"x":-140.4,"y":0.005},{"p":18,"x":-136.2,"y":0.009},{"p":18,"x":-135.2,"y":0.018},{"p":18,"x":-134.2,"y":0.009},{"p":18,"x":-130,"y":0.006},{"p":18,"x":-125.8,"y":0.012},{"p":18,"x":-124.8,"y":0.024},{"p":18,"x":-123.8,"y":0.013},{"p":18,"x":-119.6,"y":0.008},{"p":18,"x":-115.4,"y":0.015},{"p":18,"x":-114.4,"y":0.032},{"p":18,"x":-113.4,"y":0.017},{"p":18,"x":-109.2,"y":0.01},{"p":18,"x":-105,"y":0.021},{"p":18,"x":-104.35,"y":0.03},{"p":18,"x":-104,"y":0.044},{"p":18,"x":-103.65,"y":0.032},{"p":18,"x":-103,"y":0.024},{"p":18,"x":-98.8,"y":0.014},{"p":18,"x":-94.6,"y":0.031},{"p":18,"x":-93.95,"y":0.044},{"p":18,"x":-93.6,"y":0.065},{"p":18,"x":-93.25,"y":0.047},{"p":18,"x":-92.6,"y":0.035},{"p":18,"x":-88.4,"y":0.02},{"p":18,"x":-85.4,"y":0.029},{"p":18,"x":-84.2,"y":0.044},{"p":18,"x":-83.55,"y":0.063},{"p":18,"x":-83.2,"y":0.092},{"p":18,"x":-82.85,"y":0.067},{"p":18,"x":-82.2,"y":0.05},{"p":18,"x":-81,"y":0.038},{"p":18,"x":-78,"y":0.03},{"p":18,"x":-75,"y":0.046},{"p":18,"x":-73.8,"y":0.07},{"p":18,"x":-73.15,"y":0.102},{"p":18,"x":-72.8,"y":0.15},{"p":18,"x":-72.45,"y":0.109},{"p":18,"x":-71.8,"y":0.082},{"p":18,"x":-70.6,"y":0.061},{"p":18,"x":-67.6,"y":0.048},{"p":18,"x":-64.6,"y":0.078},{"p":18,"x":-63.4,"y":0.125},{"p":18,"x":-62.75,"y":0.187},{"p":18,"x":-62.4,"y":0.28},{"p":18,"x":-62.05,"y":0.202},{"p":18,"x":-61.4,"y":0.149},{"p":18,"x":-60.2,"y":0.11},{"p":18,"x":-57.2,"y":0.085},{"p":18,"x":-54.2,"y":0.142},{"p":18,"x":-53,"y":0.229},{"p":18,"x":-52.35,"y":0.346},{"p":18,"x":-52,"y":0.52},{"p":18,"x":-51.65,"y":0.372},{"p":18,"x":-51,"y":0.272},{"p":18,"x":-49.8,"y":0.198},{"p":18,"x":-46.8,"y":0.15},{"p":18,"x":-43.8,"y":0.233},{"p":18,"x":-42.6,"y":0.361},{"p":18,"x":-41.95,"y":0.534},{"p":18,"x":-41.6,"y":0.79},{"p":18,"x":-41.25,"y":0.562},{"p":18,"x":-40.6,"y":0.408},{"p":18,"x":-39.4,"y":0.294},{"p":18,"x":-36.4,"y":0.22},{"p":18,"x":-33.4,"y":0.319},{"p":18,"x":-32.2,"y":0.472},{"p":18,"x":-31.55,"y":0.679},{"p":18,"x":-31.2,"y":0.985},{"p":18,"x":-30.85,"y":0.683},{"p":18,"x":-30.2,"y":0.479},{"p":18,"x":-29,"y":0.328},{"p":18,"x":-26,"y":0.23},{"p":18,"x":-23,"y":0.325},{"p":18,"x":-21.8,"y":0.471},{"p":18,"x":-21.15,"y":0.668},{"p":18,"x":-20.8,"y":0.96},{"p":18,"x":-20.45,"y":0.652},{"p":18,"x":-19.8,"y":0.444},{"p":18,"x":-18.6,"y":0.29},{"p":18,"x":-15.6,"y":0.19},{"p":18,"x":-12.6,"y":0.255},{"p":18,"x":-11.4,"y":0.355},{"p":18,"x":-10.75,"y":0.49},{"p":18,"x":-10.4,"y":0.69},{"p":18,"x":-10.05,"y":0.458},{"p":18,"x":-9.4,"y":0.3},{"p":18,"x":-8.2,"y":0.185},{"p":18,"x":-5.2,"y":0.11},{"p":18,"x":-2.2,"y":0.15},{"p":18,"x":-1,"y":0.212},{"p":18,"x":-0.35,"y":0.296},
{"p":18,"x":0,"y":0.42},{"p":18,"x":0.35,"y":0.296},{"p":18,"x":1,"y":0.212},{"p":18,"x":2.2,"y":0.15},{"p":18,"x":5.2,"y":0.11},{"p":18,"x":8.2,"y":0.185},{"p":18,"x":9.4,"y":0.3},{"p":18,"x":10.05,"y":0.458},{"p":18,"x":10.4,"y":0.69},{"p":18,"x":10.75,"y":0.49},{"p":18,"x":11.4,"y":0.355},{"p":18,"x":12.6,"y":0.255},{"p":18,"x":15.6,"y":0.19},{"p":18,"x":18.6,"y":0.29},{"p":18,"x":19.8,"y":0.444},{"p":18,"x":20.45,"y":0.652},{"p":18,"x":20.8,"y":0.96},{"p":18,"x":21.15,"y":0.668},{"p":18,"x":21.8,"y":0.471},{"p":18,"x":23,"y":0.325},{"p":18,"x":26,"y":0.23},{"p":18,"x":29,"y":0.328},{"p":18,"x":30.2,"y":0.479},{"p":18,"x":30.85,"y":0.683},{"p":18,"x":31.2,"y":0.985},{"p":18,"x":31.55,"y":0.679},{"p":18,"x":32.2,"y":0.472},{"p":18,"x":33.4,"y":0.319},{"p":18,"x":36.4,"y":0.22},{"p":18,"x":39.4,"y":0.294},{"p":18,"x":40.6,"y":0.408},{"p":18,"x":41.25,"y":0.562},{"p":18,"x":41.6,"y":0.79},{"p":18,"x":41.95,"y":0.534},{"p":18,"x":42.6,"y":0.361},{"p":18,"x":43.8,"y":0.233},{"p":18,"x":46.8,"y":0.15},{"p":18,"x":49.8,"y":0.198},{"p":18,"x":51,"y":0.272},{"p":18,"x":51.65,"y":0.372},{"p":18,"x":52,"y":0.52},{"p":18,"x":52.35,"y":0.346},{"p":18,"x":53,"y":0.229},{"p":18,"x":54.2,"y":0.142},{"p":18,"x":57.2,"y":0.085},{"p":18,"x":60.2,"y":0.11},{"p":18,"x":61.4,"y":0.149},{"p":18,"x":62.05,"y":0.202},{"p":18,"x":62.4,"y":0.28},{"p":18,"x":62.75,"y":0.187},{"p":18,"x":63.4,"y":0.125},{"p":18,"x":64.6,"y":0.078},{"p":18,"x":67.6,"y":0.048},{"p":18,"x":70.6,"y":0.061},{"p":18,"x":71.8,"y":0.082},{"p":18,"x":72.45,"y":0.109},{"p":18,"x":72.8,"y":0.15},{"p":18,"x":73.15,"y":0.102},{"p":18,"x":73.8,"y":0.07},{"p":18,"x":75,"y":0.046},{"p":18,"x":78,"y":0.03},{"p":18,"x":81,"y":0.038},{"p":18,"x":82.2,"y":0.05},{"p":18,"x":82.85,"y":0.067},{"p":18,"x":83.2,"y":0.092},{"p":18,"x":83.55,"y":0.063},{"p":18,"x":84.2,"y":0.044},{"p":18,"x":85.4,"y":0.029},{"p":18,"x":88.4,"y":0.02},{"p":18,"x":92.6,"y":0.035},{"p":18,"x":93.25,"y":0.047},{"p":18,"x":93.6,"y":0.065},{"p":18,"x":93.95,"y":0.044},{"p":18,"x":94.6,"y":0.031},{"p":18,"x":98.8,"y":0.014},{"p":18,"x":103,"y":0.024},{"p":18,"x":103.65,"y":0.032},{"p":18,"x":104,"y":0.044},{"p":18,"x":104.35,"y":0.03},{"p":18,"x":105,"y":0.021},{"p":18,"x":109.2,"y":0.01},{"p":18,"x":113.4,"y":0.017},{"p":18,"x":114.4,"y":0.032},{"p":18,"x":115.4,"y":0.015},{"p":18,"x":119.6,"y":0.008},{"p":18,"x":123.8,"y":0.013},{"p":18,"x":124.8,"y":0.024},{"p":18,"x":125.8,"y":0.012},{"p":18,"x":130,"y":0.006},{"p":18,"x":134.2,"y":0.009},{"p":18,"x":135.2,"y":0.018},{"p":18,"x":136.2,"y":0.009},{"p":18,"x":140.4,"y":0.005},{"p":18,"x":144.6,"y":0.007},{"p":18,"x":145.6,"y":0.014},{"p":18,"x":146.6,"y":0.007},{"p":18,"x":150,"y":0.005}
]
},
"vconcat":[
{"width":895,"height":71,"layer":[
 {"data":{"name":"red"},"transform":[{"filter":"datum.p==10"}],"mark":{"type":"line","color":"#ff0000","strokeWidth":1.2,"interpolate":"monotone"},
  "encoding":{"x":{"field":"x","type":"quantitative","scale":{"domain":[-150,150],"nice":false},"axis":null},
   "y":{"field":"y","type":"quantitative","scale":{"domain":[0,1.2],"nice":false},"axis":{"orient":"right","values":[0,0.5,1],"labels":false,"tickSize":-8,"title":"10.","titleAngle":0,"titleAlign":"left","titleBaseline":"middle","titleFontSize":38,"titleFont":"Liberation Sans","titleFontWeight":"normal","titlePadding":12}}}},
 {"data":{"name":"env"},"mark":{"type":"line","color":"#0000ff","strokeWidth":1.2,"interpolate":"monotone"},
  "encoding":{"x":{"field":"x","type":"quantitative","scale":{"domain":[-150,150],"nice":false},"axis":null},
   "y":{"field":"y","type":"quantitative","scale":{"domain":[0,1.2],"nice":false},"axis":{"orient":"left","values":[0,0.5,1],"labelExpr":"'' + datum.value","tickSize":-8,"labelPadding":14,"title":null}}}}
],"resolve":{"axis":{"y":"independent"}}},
{"width":895,"height":71,"layer":[
 {"data":{"name":"red"},"transform":[{"filter":"datum.p==11"}],"mark":{"type":"line","color":"#ff0000","strokeWidth":1.2,"interpolate":"monotone"},
  "encoding":{"x":{"field":"x","type":"quantitative","scale":{"domain":[-150,150],"nice":false},"axis":null},
   "y":{"field":"y","type":"quantitative","scale":{"domain":[0,1.2],"nice":false},"axis":{"orient":"right","values":[0,0.5,1],"labels":false,"tickSize":-8,"title":"11.","titleAngle":0,"titleAlign":"left","titleBaseline":"middle","titleFontSize":38,"titleFont":"Liberation Sans","titleFontWeight":"normal","titlePadding":12}}}},
 {"data":{"name":"env"},"mark":{"type":"line","color":"#0000ff","strokeWidth":1.2,"interpolate":"monotone"},
  "encoding":{"x":{"field":"x","type":"quantitative","scale":{"domain":[-150,150],"nice":false},"axis":null},
   "y":{"field":"y","type":"quantitative","scale":{"domain":[0,1.2],"nice":false},"axis":{"orient":"left","values":[0,0.5,1],"labelExpr":"'' + datum.value","tickSize":-8,"labelPadding":14,"title":null}}}}
],"resolve":{"axis":{"y":"independent"}}},
{"width":895,"height":71,"layer":[
 {"data":{"name":"red"},"transform":[{"filter":"datum.p==12"}],"mark":{"type":"line","color":"#ff0000","strokeWidth":1.2,"interpolate":"monotone"},
  "encoding":{"x":{"field":"x","type":"quantitative","scale":{"domain":[-150,150],"nice":false},"axis":null},
   "y":{"field":"y","type":"quantitative","scale":{"domain":[0,1.2],"nice":false},"axis":{"orient":"right","values":[0,0.5,1],"labels":false,"tickSize":-8,"title":"12.","titleAngle":0,"titleAlign":"left","titleBaseline":"middle","titleFontSize":38,"titleFont":"Liberation Sans","titleFontWeight":"normal","titlePadding":12}}}},
 {"data":{"name":"env"},"mark":{"type":"line","color":"#0000ff","strokeWidth":1.2,"interpolate":"monotone"},
  "encoding":{"x":{"field":"x","type":"quantitative","scale":{"domain":[-150,150],"nice":false},"axis":null},
   "y":{"field":"y","type":"quantitative","scale":{"domain":[0,1.2],"nice":false},"axis":{"orient":"left","values":[0,0.5,1],"labelExpr":"'' + datum.value","tickSize":-8,"labelPadding":14,"title":null}}}}
],"resolve":{"axis":{"y":"independent"}}},
{"width":895,"height":71,"layer":[
 {"data":{"name":"red"},"transform":[{"filter":"datum.p==13"}],"mark":{"type":"line","color":"#ff0000","strokeWidth":1.2,"interpolate":"monotone"},
  "encoding":{"x":{"field":"x","type":"quantitative","scale":{"domain":[-150,150],"nice":false},"axis":null},
   "y":{"field":"y","type":"quantitative","scale":{"domain":[0,1.2],"nice":false},"axis":{"orient":"right","values":[0,0.5,1],"labels":false,"tickSize":-8,"title":"13.","titleAngle":0,"titleAlign":"left","titleBaseline":"middle","titleFontSize":38,"titleFont":"Liberation Sans","titleFontWeight":"normal","titlePadding":12}}}},
 {"data":{"name":"env"},"mark":{"type":"line","color":"#0000ff","strokeWidth":1.2,"interpolate":"monotone"},
  "encoding":{"x":{"field":"x","type":"quantitative","scale":{"domain":[-150,150],"nice":false},"axis":null},
   "y":{"field":"y","type":"quantitative","scale":{"domain":[0,1.2],"nice":false},"axis":{"orient":"left","values":[0,0.5,1],"labelExpr":"'' + datum.value","tickSize":-8,"labelPadding":14,"title":null}}}}
],"resolve":{"axis":{"y":"independent"}}},
{"width":895,"height":71,"layer":[
 {"data":{"name":"red"},"transform":[{"filter":"datum.p==14"}],"mark":{"type":"line","color":"#ff0000","strokeWidth":1.2,"interpolate":"monotone"},
  "encoding":{"x":{"field":"x","type":"quantitative","scale":{"domain":[-150,150],"nice":false},"axis":null},
   "y":{"field":"y","type":"quantitative","scale":{"domain":[0,1.2],"nice":false},"axis":{"orient":"right","values":[0,0.5,1],"labels":false,"tickSize":-8,"title":"14.","titleAngle":0,"titleAlign":"left","titleBaseline":"middle","titleFontSize":38,"titleFont":"Liberation Sans","titleFontWeight":"normal","titlePadding":12}}}},
 {"data":{"name":"env"},"mark":{"type":"line","color":"#0000ff","strokeWidth":1.2,"interpolate":"monotone"},
  "encoding":{"x":{"field":"x","type":"quantitative","scale":{"domain":[-150,150],"nice":false},"axis":null},
   "y":{"field":"y","type":"quantitative","scale":{"domain":[0,1.2],"nice":false},"axis":{"orient":"left","values":[0,0.5,1],"labelExpr":"'' + datum.value","tickSize":-8,"labelPadding":14,"title":"Amplitude","titleFontSize":32,"titleFontWeight":"bold","titlePadding":11}}}}
],"resolve":{"axis":{"y":"independent"}}},
{"width":895,"height":71,"layer":[
 {"data":{"name":"red"},"transform":[{"filter":"datum.p==15"}],"mark":{"type":"line","color":"#ff0000","strokeWidth":1.2,"interpolate":"monotone"},
  "encoding":{"x":{"field":"x","type":"quantitative","scale":{"domain":[-150,150],"nice":false},"axis":null},
   "y":{"field":"y","type":"quantitative","scale":{"domain":[0,1.2],"nice":false},"axis":{"orient":"right","values":[0,0.5,1],"labels":false,"tickSize":-8,"title":"15.","titleAngle":0,"titleAlign":"left","titleBaseline":"middle","titleFontSize":38,"titleFont":"Liberation Sans","titleFontWeight":"normal","titlePadding":12}}}},
 {"data":{"name":"env"},"mark":{"type":"line","color":"#0000ff","strokeWidth":1.2,"interpolate":"monotone"},
  "encoding":{"x":{"field":"x","type":"quantitative","scale":{"domain":[-150,150],"nice":false},"axis":null},
   "y":{"field":"y","type":"quantitative","scale":{"domain":[0,1.2],"nice":false},"axis":{"orient":"left","values":[0,0.5,1],"labelExpr":"'' + datum.value","tickSize":-8,"labelPadding":14,"title":null}}}}
],"resolve":{"axis":{"y":"independent"}}},
{"width":895,"height":71,"layer":[
 {"data":{"name":"red"},"transform":[{"filter":"datum.p==16"}],"mark":{"type":"line","color":"#ff0000","strokeWidth":1.2,"interpolate":"monotone"},
  "encoding":{"x":{"field":"x","type":"quantitative","scale":{"domain":[-150,150],"nice":false},"axis":null},
   "y":{"field":"y","type":"quantitative","scale":{"domain":[0,1.2],"nice":false},"axis":{"orient":"right","values":[0,0.5,1],"labels":false,"tickSize":-8,"title":"16.","titleAngle":0,"titleAlign":"left","titleBaseline":"middle","titleFontSize":38,"titleFont":"Liberation Sans","titleFontWeight":"normal","titlePadding":12}}}},
 {"data":{"name":"env"},"mark":{"type":"line","color":"#0000ff","strokeWidth":1.2,"interpolate":"monotone"},
  "encoding":{"x":{"field":"x","type":"quantitative","scale":{"domain":[-150,150],"nice":false},"axis":null},
   "y":{"field":"y","type":"quantitative","scale":{"domain":[0,1.2],"nice":false},"axis":{"orient":"left","values":[0,0.5,1],"labelExpr":"'' + datum.value","tickSize":-8,"labelPadding":14,"title":null}}}}
],"resolve":{"axis":{"y":"independent"}}},
{"width":895,"height":71,"layer":[
 {"data":{"name":"red"},"transform":[{"filter":"datum.p==17"}],"mark":{"type":"line","color":"#ff0000","strokeWidth":1.2,"interpolate":"monotone"},
  "encoding":{"x":{"field":"x","type":"quantitative","scale":{"domain":[-150,150],"nice":false},"axis":null},
   "y":{"field":"y","type":"quantitative","scale":{"domain":[0,1.2],"nice":false},"axis":{"orient":"right","values":[0,0.5,1],"labels":false,"tickSize":-8,"title":"17.","titleAngle":0,"titleAlign":"left","titleBaseline":"middle","titleFontSize":38,"titleFont":"Liberation Sans","titleFontWeight":"normal","titlePadding":12}}}},
 {"data":{"name":"env"},"mark":{"type":"line","color":"#0000ff","strokeWidth":1.2,"interpolate":"monotone"},
  "encoding":{"x":{"field":"x","type":"quantitative","scale":{"domain":[-150,150],"nice":false},"axis":null},
   "y":{"field":"y","type":"quantitative","scale":{"domain":[0,1.2],"nice":false},"axis":{"orient":"left","values":[0,0.5,1],"labelExpr":"'' + datum.value","tickSize":-8,"labelPadding":14,"title":null}}}}
],"resolve":{"axis":{"y":"independent"}}},
{"width":895,"height":71,"layer":[
 {"data":{"name":"red"},"transform":[{"filter":"datum.p==18"}],"mark":{"type":"line","color":"#ff0000","strokeWidth":1.2,"interpolate":"monotone"},
  "encoding":{"x":{"field":"x","type":"quantitative","scale":{"domain":[-150,150],"nice":false},"axis":{"orient":"top","values":[-150,-100,-50,0,50,100,150],"labels":false,"tickSize":-8,"title":null}},
   "y":{"field":"y","type":"quantitative","scale":{"domain":[0,1.2],"nice":false},"axis":{"orient":"right","values":[0,0.5,1],"labels":false,"tickSize":-8,"title":"18.","titleAngle":0,"titleAlign":"left","titleBaseline":"middle","titleFontSize":38,"titleFont":"Liberation Sans","titleFontWeight":"normal","titlePadding":12}}}},
 {"data":{"name":"env"},"mark":{"type":"line","color":"#0000ff","strokeWidth":1.2,"interpolate":"monotone"},
  "encoding":{"x":{"field":"x","type":"quantitative","scale":{"domain":[-150,150],"nice":false},"axis":{"orient":"bottom","values":[-150,-100,-50,0,50,100,150],"tickSize":-8,"labelPadding":18,"labelFlush":false,"title":"Frekvens (Hz)","titleFontSize":32,"titleFontWeight":"bold","titlePadding":6}},
   "y":{"field":"y","type":"quantitative","scale":{"domain":[0,1.2],"nice":false},"axis":{"orient":"left","values":[0,0.5,1],"labelExpr":"'' + datum.value","tickSize":-8,"labelPadding":14,"title":null}}}}
],"resolve":{"axis":{"x":"independent","y":"independent"}}}
]
}
